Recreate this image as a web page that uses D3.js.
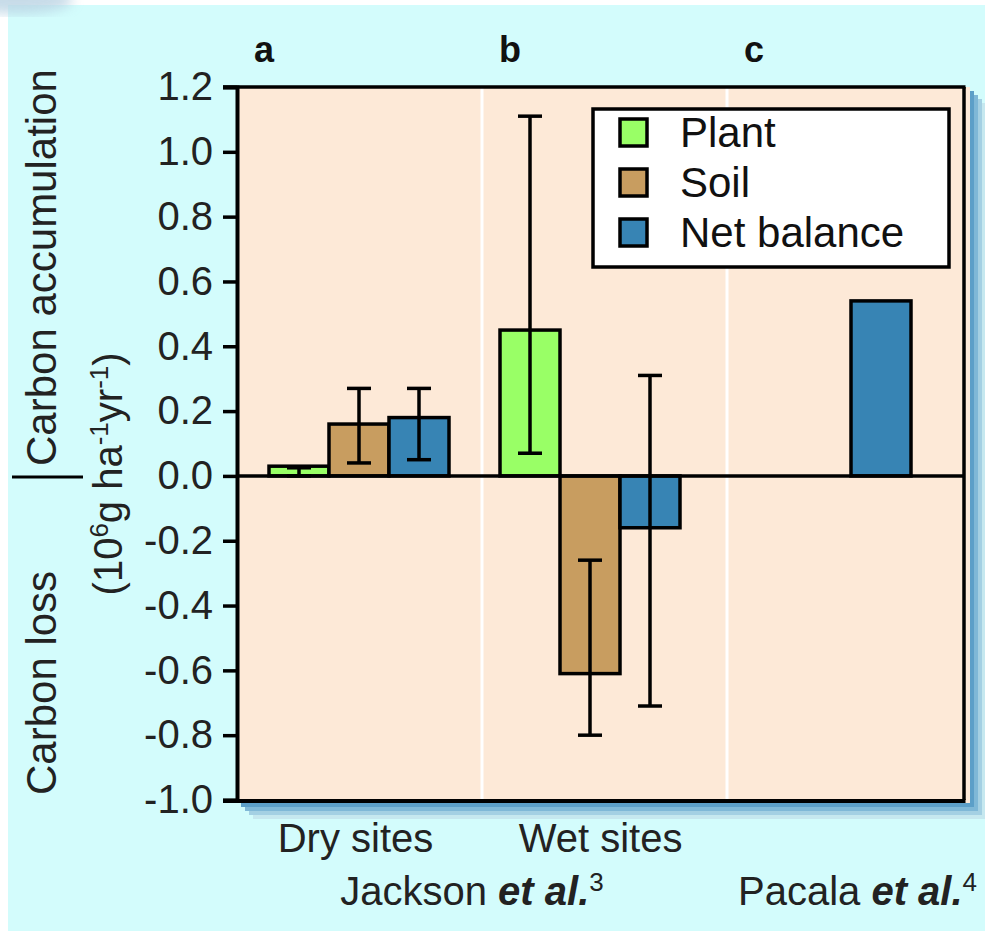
<!DOCTYPE html>
<html>
<head>
<meta charset="utf-8">
<script src="https://cdn.jsdelivr.net/npm/d3@7"></script>
<style>
  body { margin: 0; background: #ffffff; }
  text { font-family: "Liberation Sans", Arial, sans-serif; }
</style>
</head>
<body>
<div id="chart"></div>
<script>
// data
var panels = ["a", "b", "c"];
var groups = ["Dry sites", "Wet sites", "Pacala"];
var series = ["Plant", "Soil", "Net balance"];
var plantValues = [0.03, 0.45, null];
var soilValues = [0.16, -0.61, null];
var netValues = [0.18, -0.16, 0.54];
var plantLow = [0.0, 0.07, null];
var plantHigh = [0.025, 1.11, null];
var soilLow = [0.04, -0.80, null];
var soilHigh = [0.27, -0.26, null];
var netLow = [0.05, -0.71, null];
var netHigh = [0.27, 0.31, null];
var yTicks = [1.2, 1.0, 0.8, 0.6, 0.4, 0.2, 0.0, -0.2, -0.4, -0.6, -0.8, -1.0];
var groupLabels = ["Dry sites", "Wet sites"];

var margin = {top: 87, right: 21, bottom: 131, left: 237};
var width = 985 - margin.left - margin.right;
var height = 931 - margin.top - margin.bottom;

var svg = d3.select("#chart")
    .append("svg")
        .attr("width", 985)
        .attr("height", 931);

// page background
svg.append("rect")
    .attr("x", 8).attr("y", 5)
    .attr("width", 985).attr("height", 931)
    .style("fill", "#d3fcfc");

var defs = svg.append("defs");
defs.append("filter").attr("id", "blur")
    .append("feGaussianBlur").attr("stdDeviation", 6);
svg.append("ellipse")
    .attr("cx", 18).attr("cy", 0).attr("rx", 55).attr("ry", 14)
    .attr("filter", "url(#blur)")
    .style("fill", "#b9d3e3").style("opacity", 0.8);

var yScale = d3.scaleLinear()
    .domain([-1.0, 1.2])
    .range([margin.top + height, margin.top]);

// panels a, b, c
var panelScale = d3.scaleBand()
    .domain(panels)
    .range([margin.left, margin.left + 735]);

// bar groups
var groupScale = d3.scaleBand()
    .domain(groups)
    .range([269, 911])
    .paddingInner(51 / 231)
    .paddingOuter(0);

var seriesScale = d3.scaleBand()
    .domain(series)
    .range([0, groupScale.bandwidth()]);

var color = d3.scaleOrdinal()
    .domain(series)
    .range(["#99ff66", "#c89d60", "#3784b4"]);

var rows = [];
groups.forEach(function(g, i) {
    var vals = [plantValues[i], soilValues[i], netValues[i]];
    var lows = [plantLow[i], soilLow[i], netLow[i]];
    var highs = [plantHigh[i], soilHigh[i], netHigh[i]];
    series.forEach(function(s, j) {
        if (vals[j] !== null) {
            rows.push({group: g, series: s, value: vals[j], low: lows[j], high: highs[j]});
        }
    });
});

// drop shadow of the plot box
var shadowCols = ["#c6e8ef", "#a4d0e3", "#7fb8d7", "#5c9fc8"];
shadowCols.forEach(function(c, i) {
    var off = (4 - i) * 4;
    svg.append("rect")
        .attr("x", margin.left + off)
        .attr("y", margin.top + off)
        .attr("width", width + 6)
        .attr("height", height + 3)
        .style("fill", c);
});

// plot background
svg.append("rect")
    .attr("x", margin.left)
    .attr("y", margin.top)
    .attr("width", width + 6)
    .attr("height", height + 3)
    .style("fill", "#fde9d7");

// white dividers between panels
svg.append("g")
    .selectAll("line")
    .data(panels.slice(1))
    .enter()
    .append("line")
    .attr("x1", function(d) { return panelScale(d); })
    .attr("x2", function(d) { return panelScale(d); })
    .attr("y1", margin.top)
    .attr("y2", margin.top + height)
    .style("stroke", "#ffffff")
    .style("stroke-width", 3);

// panel letters
svg.append("g")
    .selectAll("text")
    .data(panels)
    .enter()
    .append("text")
    .attr("x", function(d) { return panelScale(d) + 17; })
    .attr("y", 62)
    .style("font-size", "36px")
    .style("font-weight", "bold")
    .style("fill", "#111")
    .text(function(d) { return d; });

// bars
svg.append("g")
    .selectAll("rect")
    .data(rows)
    .enter()
    .append("rect")
    .attr("x", function(d) { return groupScale(d.group) + seriesScale(d.series); })
    .attr("y", function(d) { return yScale(Math.max(0, d.value)); })
    .attr("width", seriesScale.bandwidth())
    .attr("height", function(d) { return Math.abs(yScale(d.value) - yScale(0)); })
    .style("fill", function(d) { return color(d.series); })
    .style("stroke", "#000")
    .style("stroke-width", 3.5);

// zero line
svg.append("line")
    .attr("x1", margin.left).attr("x2", margin.left + width)
    .attr("y1", yScale(0)).attr("y2", yScale(0))
    .style("stroke", "#000").style("stroke-width", 3.5);

// error bars
var errRows = rows.filter(function(d) { return d.low !== null; });
var errG = svg.append("g")
    .selectAll("g")
    .data(errRows)
    .enter()
    .append("g")
    .attr("transform", function(d) {
        return "translate(" + (groupScale(d.group) + seriesScale(d.series) + seriesScale.bandwidth() / 2) + ",0)";
    });
errG.append("line")
    .attr("y1", function(d) { return yScale(d.low); })
    .attr("y2", function(d) { return yScale(d.high); })
    .style("stroke", "#000").style("stroke-width", 3.5);
errG.append("line")
    .attr("x1", -12).attr("x2", 12)
    .attr("y1", function(d) { return yScale(d.high); })
    .attr("y2", function(d) { return yScale(d.high); })
    .style("stroke", "#000").style("stroke-width", 3.5);
errG.append("line")
    .attr("x1", -12).attr("x2", 12)
    .attr("y1", function(d) { return yScale(d.low); })
    .attr("y2", function(d) { return yScale(d.low); })
    .style("stroke", "#000").style("stroke-width", 3.5);

// box borders: right side, top and bottom reaching out as the end ticks
svg.append("line")
    .attr("x1", margin.left + width).attr("x2", margin.left + width)
    .attr("y1", margin.top).attr("y2", margin.top + height)
    .style("stroke", "#000").style("stroke-width", 3.5);
svg.append("line")
    .attr("x1", margin.left - 14).attr("x2", margin.left + width + 1.5)
    .attr("y1", margin.top).attr("y2", margin.top)
    .style("stroke", "#000").style("stroke-width", 3.5);
svg.append("line")
    .attr("x1", margin.left - 14).attr("x2", margin.left + width + 1.5)
    .attr("y1", margin.top + height + 1).attr("y2", margin.top + height + 1)
    .style("stroke", "#000").style("stroke-width", 4);

// y axis
var yAxis = svg.append("g")
    .attr("transform", "translate(" + margin.left + ",0)")
    .call(d3.axisLeft(yScale)
        .tickValues(yTicks)
        .tickSize(14)
        .tickPadding(10)
        .tickFormat(function(d) { return d.toFixed(1); }));
yAxis.select(".domain").style("stroke", "#000").style("stroke-width", 4);
yAxis.selectAll(".tick line").style("stroke", "#000").style("stroke-width", 3.5);
yAxis.selectAll(".tick text")
    .style("font-size", "40px")
    .style("font-family", "'Liberation Sans', Arial, sans-serif")
    .style("fill", "#222");

// y titles
svg.append("text")
    .attr("transform", "translate(56,466) rotate(-90)")
    .style("font-size", "42px").style("fill", "#222")
    .text("Carbon accumulation");
svg.append("text")
    .attr("transform", "translate(56,795) rotate(-90)")
    .style("font-size", "42px").style("fill", "#222")
    .text("Carbon loss");
svg.append("line")
    .attr("x1", 12).attr("x2", 83)
    .attr("y1", yScale(0) + 1).attr("y2", yScale(0) + 1)
    .style("stroke", "#000").style("stroke-width", 3);

var units = svg.append("text")
    .attr("transform", "translate(122," + (yScale(0) - 2) + ") rotate(-90)")
    .attr("text-anchor", "middle")
    .style("font-size", "40px").style("fill", "#222");
units.append("tspan").text("(10");
units.append("tspan").attr("dy", -14).style("font-size", "26px").text("6");
units.append("tspan").attr("dy", 14).text("g ha");
units.append("tspan").attr("dy", -14).style("font-size", "26px").text("-1");
units.append("tspan").attr("dy", 14).text("yr");
units.append("tspan").attr("dy", -14).style("font-size", "26px").text("-1");
units.append("tspan").attr("dy", 14).text(")");

// group labels under the box
svg.append("g")
    .selectAll("text")
    .data(groupLabels)
    .enter()
    .append("text")
    .attr("x", function(d, i) { return panelScale(panels[i]) + panelScale.bandwidth() / 2 - 4; })
    .attr("y", 852)
    .attr("text-anchor", "middle")
    .style("font-size", "40px").style("fill", "#222")
    .text(function(d) { return d; });

function source(x, name, ref) {
    var t = svg.append("text")
        .attr("x", x).attr("y", 905)
        .attr("text-anchor", "middle")
        .style("font-size", "40px").style("fill", "#222");
    t.append("tspan").text(name + " ");
    t.append("tspan").style("font-weight", "bold").style("font-style", "italic").text("et al.");
    t.append("tspan").attr("dy", -14).style("font-size", "26px").text(ref);
}
source(panelScale("b") - 10, "Jackson", "3");
source(panelScale("c") + panelScale.bandwidth() / 2 + 8, "Pacala", "4");

// legend
var legend = svg.append("g").attr("transform", "translate(593,109)");
legend.append("rect")
    .attr("width", 356).attr("height", 158)
    .style("fill", "#fff").style("stroke", "#000").style("stroke-width", 3.5);
var legendRows = legend.selectAll(".legendRow")
    .data(series)
    .enter()
    .append("g")
    .attr("class", "legendRow")
    .attr("transform", function(d, i) { return "translate(0," + (24 + i * 50) + ")"; });
legendRows.append("rect")
    .attr("x", 27).attr("y", -14)
    .attr("width", 27).attr("height", 27)
    .style("fill", function(d) { return color(d); })
    .style("stroke", "#000").style("stroke-width", 3.5);
legendRows.append("text")
    .attr("x", 87).attr("y", 14)
    .style("font-size", "42px").style("fill", "#111")
    .text(function(d) { return d; });
</script>
</body>
</html>
